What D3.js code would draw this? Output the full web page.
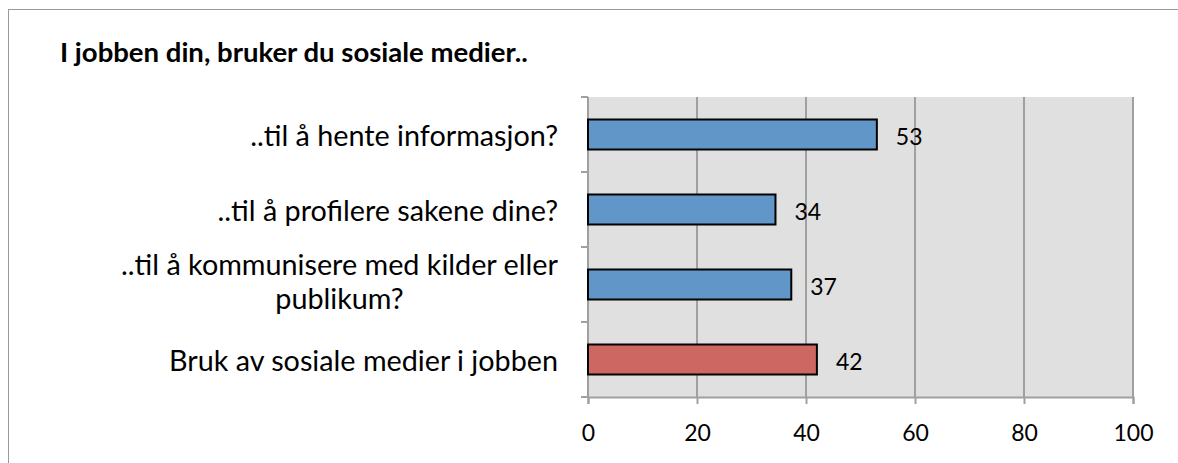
<!DOCTYPE html>
<html>
<head>
<meta charset="utf-8">
<script src="https://cdn.jsdelivr.net/npm/d3@7"></script>
<style>
  body { margin: 0; background: #fff; }
  text { font-family: Lato, "Open Sans", sans-serif; fill: #000; }
</style>
</head>
<body>
<svg width="1178" height="463"></svg>
<script>
// data
var categories = [
  ["..til å hente informasjon?"],
  ["..til å profilere sakene dine?"],
  ["..til å kommunisere med kilder eller", "publikum?"],
  ["Bruk av sosiale medier i jobben"]
];
var values = [53, 34.4, 37.3, 42];
var labels = ["53", "34", "37", "42"];
var barColors = ["#6196c9", "#6196c9", "#6196c9", "#cd6761"];
var xTicks = [0, 20, 40, 60, 80, 100];

const svg = d3.select("svg");

// scale a text's font so it spans the given width
function fitWidth(sel, width) {
  var fs = parseFloat(sel.style("font-size"));
  var w = sel.node().getComputedTextLength();
  sel.style("font-size", (fs * width / w) + "px");
  return fs * width / w;
}

// outer frame
svg.append("rect")
  .attr("x", 8.5).attr("y", 9.5)
  .attr("width", 1200).attr("height", 500)
  .attr("fill", "none").attr("stroke", "#999");

var title = svg.append("text")
  .attr("x", 60).attr("y", 62)
  .style("font-weight", "bold")
  .style("font-size", "20px")
  .text("I jobben din, bruker du sosiale medier..");
fitWidth(title, 468);

var pLeft = 588, pRight = 1133, pTop = 97, pBottom = 397;

var x = d3.scaleLinear().domain([0, 100]).range([pLeft, pRight]);
var y = d3.scaleBand().domain(d3.range(categories.length)).range([pTop, pBottom]).paddingInner(0.6).paddingOuter(0.3);

// plot background
svg.append("rect")
  .attr("x", pLeft).attr("y", pTop)
  .attr("width", pRight - pLeft).attr("height", pBottom - pTop)
  .attr("fill", "#e0e0e0");

// gridlines
svg.append("g").selectAll("line")
  .data(xTicks.slice(1))
  .enter().append("line")
  .attr("x1", d => x(d)).attr("x2", d => x(d))
  .attr("y1", pTop).attr("y2", pBottom)
  .attr("stroke", "#a0a0a0").attr("stroke-width", 2);

// x axis
var xAxis = svg.append("g")
  .attr("transform", "translate(0," + pBottom + ")")
  .call(d3.axisBottom(x).tickValues(xTicks).tickSize(7));
xAxis.select(".domain").attr("stroke", "#a0a0a0").attr("stroke-width", 2);
xAxis.selectAll(".tick line").attr("stroke", "#a0a0a0").attr("stroke-width", 2);
xAxis.selectAll(".tick text")
  .attr("y", 44).attr("dy", 0)
  .style("font-size", "23px").style("font-family", "Lato, sans-serif").attr("fill", "#000");

// y axis: ticks between categories
var yEdges = d3.range(categories.length + 1).map(i => pTop + i * (pBottom - pTop) / categories.length);
svg.append("line")
  .attr("x1", pLeft).attr("x2", pLeft).attr("y1", pTop).attr("y2", pBottom)
  .attr("stroke", "#a0a0a0").attr("stroke-width", 2);
svg.append("g").selectAll("line")
  .data(yEdges)
  .enter().append("line")
  .attr("x1", pLeft - 7).attr("x2", pLeft)
  .attr("y1", d => d).attr("y2", d => d)
  .attr("stroke", "#a0a0a0").attr("stroke-width", 2);

// bars
svg.append("g").selectAll("rect")
  .data(values)
  .enter().append("rect")
  .attr("x", x(0))
  .attr("y", (d, i) => y(i))
  .attr("width", d => x(d) - x(0))
  .attr("height", y.bandwidth())
  .attr("fill", (d, i) => barColors[i])
  .attr("stroke", "#000").attr("stroke-width", 2);

// value labels
svg.append("g").selectAll("text")
  .data(values)
  .enter().append("text")
  .attr("x", d => x(d) + 19)
  .attr("y", (d, i) => y(i) + y.bandwidth() / 2 + 10)
  .style("font-size", "23px")
  .text((d, i) => labels[i]);

// category labels
var catG = svg.append("g").selectAll("text")
  .data(categories)
  .enter().append("text")
  .style("font-size", "21px")
  .attr("text-anchor", "end")
  .attr("y", (d, i) => y(i) + y.bandwidth() / 2);

catG.each(function(lines) {
  var t = d3.select(this);
  if (lines.length == 1) {
    t.append("tspan").attr("x", 558).attr("dy", 11).text(lines[0]);
  } else {
    // two-line label: lines centred on each other, block right-aligned
    t.append("tspan").attr("x", 558).attr("dy", -10).text(lines[0]);
    t.append("tspan").attr("text-anchor", "middle").attr("dy", 34).text(lines[1]);
  }
});
// size category font from the first label's width
var catSize = fitWidth(catG.filter((d, i) => i == 0), 308);
catG.style("font-size", catSize + "px");
catG.each(function(lines) {
  if (lines.length > 1) {
    var t = d3.select(this);
    var w = t.select("tspan").node().getComputedTextLength();
    t.selectAll("tspan").filter((d, i) => i == 1).attr("x", 558 - w / 2);
  }
});
</script>
</body>
</html>
